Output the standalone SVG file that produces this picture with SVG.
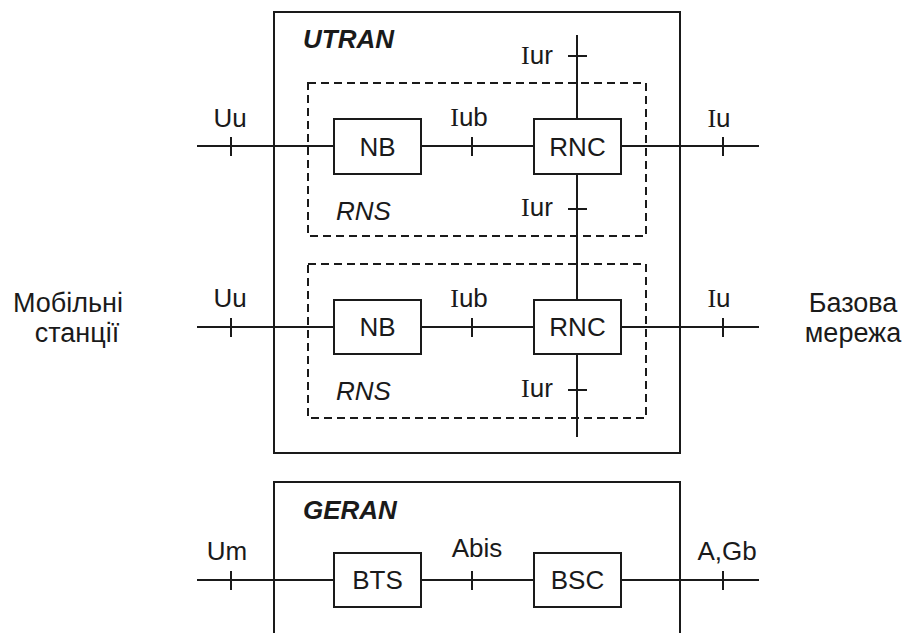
<svg xmlns="http://www.w3.org/2000/svg" width="904" height="633" viewBox="0 0 904 633">
<style>
.frame{fill:none;stroke:#1a1a1a;stroke-width:2}
.rns{fill:none;stroke:#1a1a1a;stroke-width:2;stroke-dasharray:8 5}
.box{fill:#fff;stroke:#1a1a1a;stroke-width:2}
.ln{fill:none;stroke:#1a1a1a;stroke-width:2}
text{font-family:"Liberation Sans",Arial,sans-serif;font-size:26px;fill:#1a1a1a}
.title{font-weight:bold;font-style:italic;font-size:26px}
.it{font-style:italic}
.c{text-anchor:middle}
.big{font-size:27px}
.serif{font-family:"Liberation Serif","Times New Roman",serif}
</style>
<rect width="904" height="633" fill="#fff"/>

<g id="utran">
<rect class="frame" x="274" y="12" width="406" height="441"/>
<text class="title" x="303" y="48">UTRAN</text>
</g>
<g id="rns1">
<rect class="rns" x="308" y="83" width="338" height="153"/>
<text class="it" x="336" y="220">RNS</text>
</g>
<g id="rns2">
<rect class="rns" x="308" y="264" width="338" height="154"/>
<text class="it" x="336" y="400">RNS</text>
</g>
<g id="geran">
<rect class="frame" x="274" y="482" width="406" height="170"/>
<text class="title" x="303" y="519">GERAN</text>
</g>

<g id="connectors">
<line class="ln" x1="197" y1="146" x2="759" y2="146"/>
<line class="ln" x1="197" y1="327" x2="759" y2="327"/>
<line class="ln" x1="197" y1="580" x2="759" y2="580"/>
<line class="ln" x1="577" y1="35" x2="577" y2="437"/>
<g class="ln">
<line x1="231" y1="137" x2="231" y2="156"/>
<line x1="472" y1="137" x2="472" y2="156"/>
<line x1="723" y1="137" x2="723" y2="156"/>
<line x1="231" y1="318" x2="231" y2="337"/>
<line x1="472" y1="318" x2="472" y2="337"/>
<line x1="723" y1="318" x2="723" y2="337"/>
<line x1="231" y1="571" x2="231" y2="590"/>
<line x1="472" y1="571" x2="472" y2="590"/>
<line x1="723" y1="571" x2="723" y2="590"/>
<line x1="568" y1="56" x2="587" y2="56"/>
<line x1="568" y1="209" x2="587" y2="209"/>
<line x1="568" y1="390" x2="587" y2="390"/>
</g>
<text class="c" x="230" y="127">Uu</text>
<text class="c" x="469" y="126"><tspan class="serif">I</tspan>ub</text>
<text class="c" x="719" y="127"><tspan class="serif">I</tspan>u</text>
<text class="c" x="230" y="307">Uu</text>
<text class="c" x="469" y="307"><tspan class="serif">I</tspan>ub</text>
<text class="c" x="719" y="307"><tspan class="serif">I</tspan>u</text>
<text x="521" y="64"><tspan class="serif">I</tspan>ur</text>
<text x="521" y="216"><tspan class="serif">I</tspan>ur</text>
<text x="521" y="397"><tspan class="serif">I</tspan>ur</text>
<text class="c" x="227" y="560">Um</text>
<text class="c" x="477" y="557">Abis</text>
<text class="c" x="727" y="560">A,Gb</text>
</g>

<g id="nb1"><rect class="box" x="334" y="119" width="87" height="55"/><text class="c" x="377.5" y="156">NB</text></g>
<g id="rnc1"><rect class="box" x="534" y="119" width="87" height="55"/><text class="c" x="577.5" y="156">RNC</text></g>
<g id="nb2"><rect class="box" x="334" y="300" width="87" height="54"/><text class="c" x="377.5" y="336">NB</text></g>
<g id="rnc2"><rect class="box" x="534" y="300" width="87" height="54"/><text class="c" x="577.5" y="336">RNC</text></g>
<g id="bts"><rect class="box" x="334" y="553" width="87" height="54"/><text class="c" x="377.5" y="589">BTS</text></g>
<g id="bsc"><rect class="box" x="534" y="553" width="87" height="54"/><text class="c" x="577.5" y="589">BSC</text></g>

<g id="mobile">
<text class="c big" x="68" y="312">Мобільні</text>
<text class="c big" x="77" y="342">станції</text>
</g>
<g id="core">
<text class="c big" x="853" y="312">Базова</text>
<text class="c big" x="853" y="342">мережа</text>
</g>
</svg>
